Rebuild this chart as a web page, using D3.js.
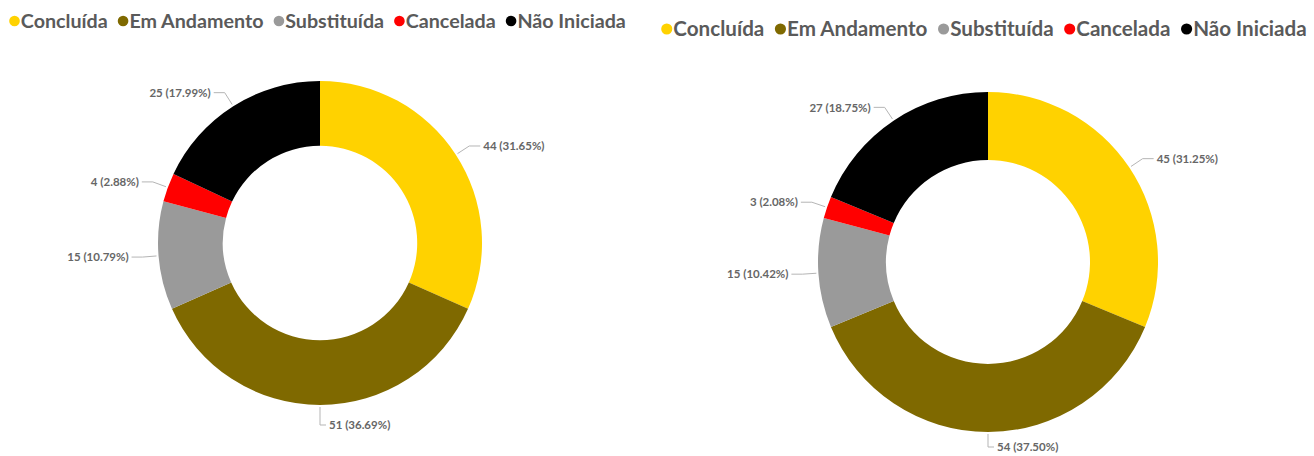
<!DOCTYPE html>
<html>
<head>
<meta charset="utf-8">
<script src="https://cdn.jsdelivr.net/npm/d3@7"></script>
<style>
  body { margin: 0; background: #fff; }
  svg { display: block; font-family: Lato, "Open Sans", sans-serif; }
</style>
</head>
<body>
<div id="chart"></div>
<script>
const categories = ["Concluída", "Em Andamento", "Substituída", "Cancelada", "Não Iniciada"];
const colors = ["#FFD200", "#7F6900", "#9A9A9A", "#FF0000", "#000000"];
const valuesLeft = [44, 51, 15, 4, 25];
const valuesRight = [45, 54, 15, 3, 27];

const width = 1314;
const height = 456;

const svg = d3.select("#chart")
    .append("svg")
    .attr("width", width)
    .attr("height", height);

const colorScale = d3.scaleOrdinal().domain(categories).range(colors);

// legend, fitted to a target width
function drawLegend(x, y, targetWidth, fontSize) {
    const g = svg.append("g").attr("transform", `translate(${x},${y})`);
    function layout(fs) {
        g.selectAll("*").remove();
        let cx = 0;
        categories.forEach(c => {
            g.append("circle")
                .attr("cx", cx + fs * 0.28)
                .attr("cy", 0)
                .attr("r", fs * 0.27)
                .attr("fill", colorScale(c));
            const t = g.append("text")
                .attr("x", cx + fs * 0.6)
                .attr("y", 0)
                .attr("dy", "0.36em")
                .attr("fill", "#5a5a5a")
                .style("font-size", fs + "px")
                .style("font-weight", 700)
                .text(c);
            cx += fs * 0.6 + t.node().getComputedTextLength() + fs * 0.5;
        });
        return cx - fs * 0.5;
    }
    const w = layout(fontSize);
    layout(fontSize * targetWidth / w);
}

drawLegend(9, 21, 617, 17);
drawLegend(661, 29, 646, 18);

function drawDonut(cx, cy, outer, values) {
    const total = d3.sum(values);
    const data = values.map((v, i) => ({ cat: categories[i], value: v }));
    const pie = d3.pie().sort(null).value(d => d.value);
    const arcs = pie(data);
    const arc = d3.arc().innerRadius(outer * 0.6).outerRadius(outer);

    const g = svg.append("g").attr("transform", `translate(${cx},${cy})`);

    g.selectAll("path.slice")
        .data(arcs)
        .enter()
        .append("path")
        .attr("class", "slice")
        .attr("d", arc)
        .attr("fill", d => colorScale(d.data.cat));

    arcs.forEach(d => {
        const a = (d.startAngle + d.endAngle) / 2;
        const right = a <= Math.PI + 0.001;
        const bottom = Math.abs(Math.sin(a)) < 0.05;
        // keep the bottom label inside the picture
        const ext = bottom ? Math.min(20, height - cy - outer - 9) : 16;
        const p1 = [Math.sin(a) * (outer + 2), -Math.cos(a) * (outer + 2)];
        const p2 = [Math.sin(a) * (outer + ext), -Math.cos(a) * (outer + ext)];
        const hl = bottom ? 6 : 11;
        const p3 = [p2[0] + (right ? hl : -hl), p2[1]];
        g.append("polyline")
            .attr("points", [p1, p2, p3].map(p => p.join(",")).join(" "))
            .attr("fill", "none")
            .attr("stroke", "#b5b5b5")
            .attr("stroke-width", 1);
        g.append("text")
            .attr("x", p3[0] + (right ? 3 : -3))
            .attr("y", p3[1])
            .attr("dy", "0.36em")
            .attr("text-anchor", right ? "start" : "end")
            .attr("fill", "#666")
            .style("font-size", "11.5px")
            .style("font-weight", 700)
            .text(`${d.data.value} (${(d.data.value / total * 100).toFixed(2)}%)`);
    });
}

drawDonut(320, 243, 162, valuesLeft);
drawDonut(988, 262, 170, valuesRight);
</script>
</body>
</html>
